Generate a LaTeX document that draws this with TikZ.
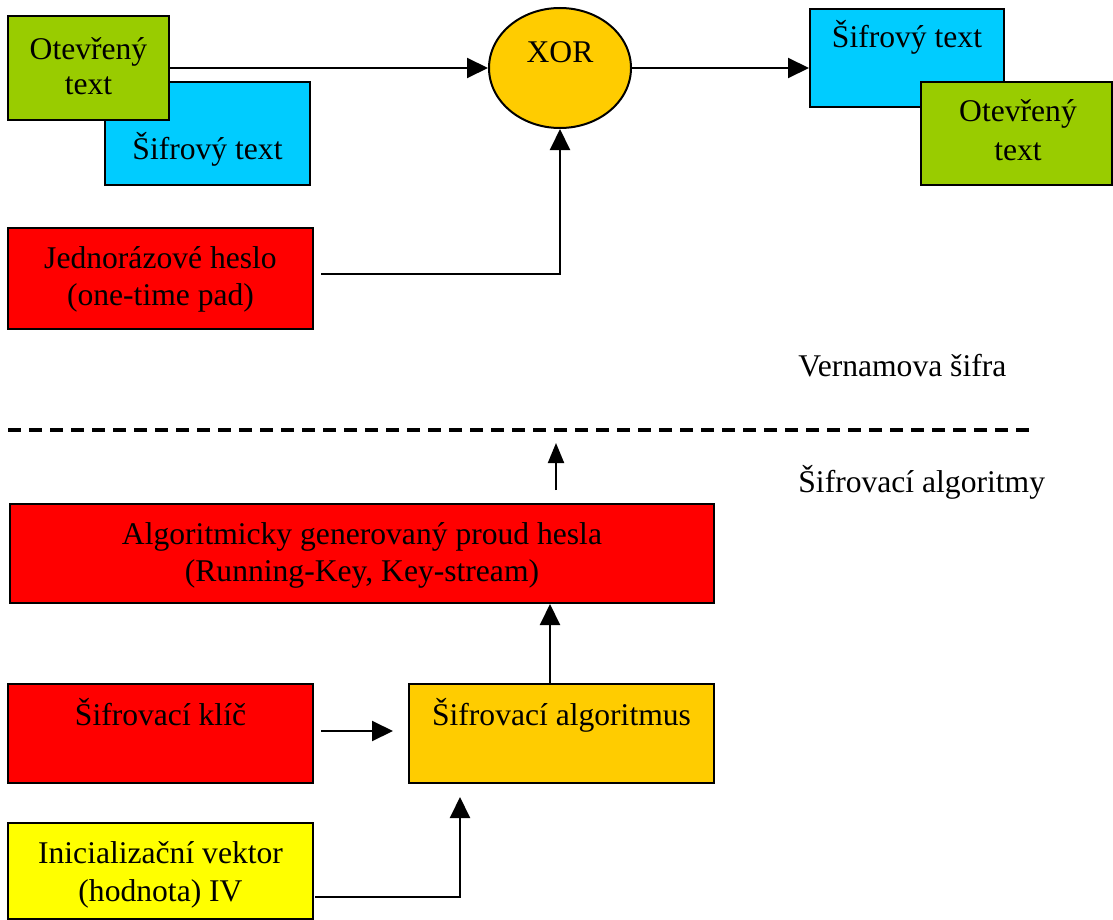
\documentclass[tikz,border=0pt]{standalone}
\usepackage{fontspec}
\setmainfont{Liberation Serif}
\usetikzlibrary{arrows.meta,shapes.geometric}
\definecolor{cgreen}{HTML}{99CC00}
\definecolor{ccyan}{HTML}{00CCFF}
\definecolor{corange}{HTML}{FFCC00}
\definecolor{cred}{HTML}{FF0000}
\definecolor{cyellow}{HTML}{FFFF00}
\tikzset{
  box/.style={draw=black, line width=1pt, rectangle, inner sep=0pt},
  lbl/.style={anchor=base, inner sep=0pt, font=\fontsize{15.8}{18.5}\selectfont},
  lblw/.style={anchor=base west, inner sep=0pt, font=\fontsize{15.8}{18.5}\selectfont},
  arr/.style={line width=1pt, -{Triangle[length=10.5pt,width=10pt]}},
  sarr/.style={line width=1pt, -{Triangle[length=10pt,width=8pt]}},
}
\begin{document}
\begin{tikzpicture}[x=0.5pt,y=-0.5pt]
\useasboundingbox (0,0) rectangle (1113,920);
% top-left boxes
\node[box, fill=ccyan, minimum width=102.5pt, minimum height=51.5pt] (B) at (207.5,133.5) {};
\node[box, fill=cgreen, minimum width=80.5pt, minimum height=52pt] (A) at (88.5,68) {};
\node[lbl] (At1) at (88.5,60) {Otevřený};
\node[lbl] (At2) at (88.5,95) {text};
\node[lbl] (Bt) at (207.5,159) {Šifrový text};
% XOR
\node[draw=black, line width=1pt, ellipse, fill=corange, minimum width=71pt, minimum height=60pt, inner sep=0pt] (X) at (560,68) {};
\node[lbl] (Xt) at (560,63) {XOR};
% top-right boxes
\node[box, fill=ccyan, minimum width=97pt, minimum height=49pt] (C) at (907,58) {};
\node[box, fill=cgreen, minimum width=95.5pt, minimum height=51.5pt] (D) at (1016.5,133.5) {};
\node[lbl] (Ct) at (907,48) {Šifrový text};
\node[lbl] (Dt1) at (1018,122) {Otevřený};
\node[lbl] (Dt2) at (1018,160) {text};
% one-time pad
\node[box, fill=cred, minimum width=152.5pt, minimum height=50.5pt] (E) at (160.5,278.5) {};
\node[lbl] (Et1) at (160.5,268) {Jednorázové heslo};
\node[lbl] (Et2) at (160.5,305) {(one-time pad)};
% labels
\node[lblw] (V) at (798,376) {Vernamova šifra};
\node[lblw] (S) at (798,492) {Šifrovací algoritmy};
% key stream
\node[box, fill=cred, minimum width=352pt, minimum height=49.5pt] (F) at (362,553.5) {};
\node[lbl] (Ft1) at (362,544) {Algoritmicky generovaný proud hesla};
\node[lbl] (Ft2) at (362,581) {(Running-Key, Key-stream)};
% key and algorithm
\node[box, fill=cred, minimum width=152.5pt, minimum height=49.5pt] (G) at (160.5,733.5) {};
\node[lbl] (Gt) at (160.5,725) {Šifrovací klíč};
\node[box, fill=corange, minimum width=152.5pt, minimum height=49.5pt] (H) at (561.5,733.5) {};
\node[lbl] (Ht) at (561.5,725) {Šifrovací algoritmus};
% IV
\node[box, fill=cyellow, minimum width=152.5pt, minimum height=48pt] (I) at (160.5,871) {};
\node[lbl] (It1) at (160.5,863) {Inicializační vektor};
\node[lbl] (It2) at (160.5,901) {(hodnota) IV};
% coordinates
\coordinate (e1) at (321,274);
\coordinate (g1) at (321,731);
\coordinate (i1) at (315,897);
\coordinate (h1) at (460,797);
\coordinate (s1) at (556,490);
\coordinate (s2) at (556,443);
\coordinate (d1) at (8,430);
\coordinate (d2) at (1030,430);
% connectors
\draw[arr] (A.east |- X.west) -- (X.west);
\draw[arr] (X.east) -- (X.east -| C.west);
\draw[arr] (e1) -| (X.south);
\draw[line width=1.75pt, dash pattern=on 6.5pt off 4pt] (d1) -- (d2);
\draw[sarr] (s1) -- (s2);
\draw[arr, shorten >=7.5pt] (g1) -- (g1 -| H.west);
\draw[arr] ([xshift=-5.75pt]H.north) -- ([xshift=-5.75pt]H.north |- F.south);
\draw[arr] (i1) -| (h1);
\end{tikzpicture}
\end{document}
